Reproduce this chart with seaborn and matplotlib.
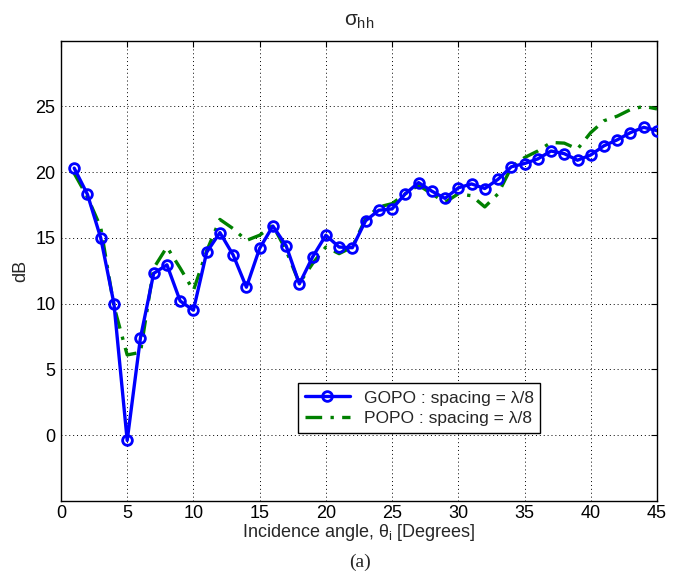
import numpy as np
import pandas as pd
import matplotlib
matplotlib.use("Agg")
import matplotlib.pyplot as plt
import seaborn as sns

angles = list(range(1, 46))
gopo = [20.3, 18.3, 15.0, 10.0, -0.4, 7.4, 12.3, 12.95, 10.2, 9.5,
        13.9, 15.4, 13.7, 11.25, 14.2, 15.9, 14.4, 11.5, 13.55, 15.2,
        14.3, 14.25, 16.3, 17.1, 17.2, 18.35, 19.2, 18.55, 18.0, 18.8,
        19.1, 18.75, 19.45, 20.4, 20.65, 21.0, 21.6, 21.4, 20.9, 21.3,
        22.0, 22.45, 23.0, 23.4, 23.15]
popo = [19.9, 18.1, 15.8, 9.8, 6.1, 6.3, 12.7, 14.3, 12.7, 11.0,
        14.0, 16.4, 15.7, 14.8, 15.2, 15.95, 14.05, 11.55, 13.05, 14.3,
        13.8, 14.3, 16.45, 17.35, 17.6, 18.35, 19.0, 18.35, 17.7, 18.35,
        18.2, 17.35, 18.35, 20.35, 21.1, 21.6, 22.25, 22.2, 21.75, 23.0,
        23.9, 24.25, 24.75, 25.0, 24.8]
xticks = [0, 5, 10, 15, 20, 25, 30, 35, 40, 45]
yticks = [0, 5, 10, 15, 20, 25]
label_gopo = "GOPO : spacing = λ/8"
label_popo = "POPO : spacing = λ/8"

sns.set_theme(style="white")
plt.rcParams['font.family'] = ['Liberation Sans', 'DejaVu Sans']
plt.rcParams['mathtext.fontset'] = 'custom'
plt.rcParams['mathtext.rm'] = 'Liberation Sans'
plt.rcParams['mathtext.it'] = 'Liberation Sans'

df_g = pd.DataFrame({"angle": angles, "dB": gopo})
df_p = pd.DataFrame({"angle": angles, "dB": popo})

fig = plt.figure(figsize=(6.82, 5.82), dpi=100)
ax = fig.add_axes([0.0894, 0.1392, 0.8739, 0.7912])

sns.lineplot(data=df_g, x="angle", y="dB", ax=ax, color="#0000ff", lw=2.4,
             marker="o", markersize=7, markerfacecolor="none",
             markeredgecolor="#0000ff", markeredgewidth=2.0,
             label=label_gopo, zorder=3)
sns.lineplot(data=df_p, x="angle", y="dB", ax=ax, color="#008000", lw=2.4,
             dashes=False, label=label_popo, zorder=2)
ax.lines[-1].set_linestyle((0, (5, 2.5, 1, 2.5)))

ax.set_xlim(0, 45)
ax.set_ylim(-5, 30)
ax.set_xticks(xticks)
ax.set_yticks(yticks)
ax.tick_params(direction="in", top=True, right=True, length=4, width=0.8,
               labelsize=13, colors="black", pad=4)
ax.tick_params(axis="x", pad=3)
ax.grid(True, linestyle=(0, (1, 3)), color="black", linewidth=0.7)
for s in ax.spines.values():
    s.set_color("black")
    s.set_linewidth(1.0)

ax.set_xlabel(r"Incidence angle, $\theta_{\mathregular{i}}$ [Degrees]", fontsize=13, labelpad=0)
ax.set_ylabel("dB", fontsize=13, labelpad=4)
ax.set_title(r"$\sigma_{\mathregular{hh}}$", fontsize=15, pad=11)

leg = ax.legend(loc="lower left", bbox_to_anchor=(0.397, 0.148), borderaxespad=0,
                fontsize=12.5, frameon=True, fancybox=False, framealpha=1,
                edgecolor="black", borderpad=0.4, handlelength=2.6, labelspacing=0.3)
leg.get_frame().set_linewidth(1.0)

fig.text(0.528, 0.033, "(a)", fontsize=14, family="Liberation Serif", ha="center", va="center")

fig.savefig("out.png", dpi=100)
